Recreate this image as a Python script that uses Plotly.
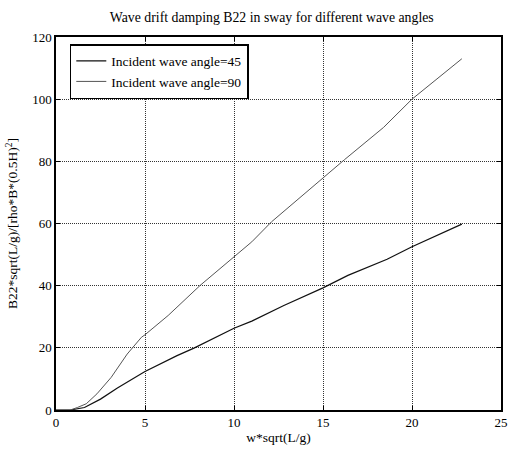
import plotly.graph_objects as go

# Incident wave angle = 45
x45 = [0, 0.8, 1.6, 2.5, 3.45, 5.0, 6.8, 7.75, 10.0, 11.0, 12.8, 15.0, 16.4, 18.6, 20.0, 22.8]
y45 = [0, 0, 0.8, 3.5, 7.1, 12.4, 17.5, 19.9, 26.3, 28.6, 33.6, 39.3, 43.3, 48.5, 52.5, 59.8]

# Incident wave angle = 90
x90 = [0, 0.8, 1.2, 1.7, 2.3, 3.1, 4.0, 4.8, 5.0, 6.3, 8.1, 10.0, 11.0, 12.1, 15.0, 16.2, 18.4, 20.0, 22.8]
y90 = [0, 0, 0.8, 2.0, 5.2, 10.5, 18.0, 23.4, 24.2, 30.4, 40.1, 49.2, 54.1, 60.5, 74.8, 80.5, 90.9, 100.0, 113.0]

xticks = [0, 5, 10, 15, 20, 25]
yticks = [0, 20, 40, 60, 80, 100, 120]

FONT = "Liberation Serif"

fig = go.Figure()
fig.add_trace(go.Scatter(x=x45, y=y45, mode="lines", name="Incident wave angle=45",
                         line=dict(color="#111111", width=1.2)))
fig.add_trace(go.Scatter(x=x90, y=y90, mode="lines", name="Incident wave angle=90",
                         line=dict(color="#555555", width=1)))

axis_common = dict(
    showline=True, linecolor="black", linewidth=1.5, mirror="ticks",
    ticks="inside", ticklen=4, tickcolor="black", tickwidth=1,
    showgrid=True, gridcolor="#333333", griddash="1px,1px", gridwidth=1,
    zeroline=False, automargin=False,
    tickfont=dict(family=FONT, size=13, color="black"),
)

fig.update_xaxes(range=[0, 25], tickvals=xticks,
                 title=dict(text="w*sqrt(L/g)", font=dict(family=FONT, size=13.5, color="black"), standoff=3),
                 **axis_common)
fig.update_yaxes(range=[0, 120], tickvals=yticks,
                 title=dict(text="B22*sqrt(L/g)/[rho*B*(0.5H)<sup>2</sup>]",
                            font=dict(family=FONT, size=13.5, color="black"), standoff=11),
                 **axis_common)

fig.update_layout(
    width=508, height=449,
    margin=dict(l=56, r=7, t=37, b=39),
    paper_bgcolor="white", plot_bgcolor="white",
    font=dict(family=FONT, size=13, color="black"),
    title=dict(text="Wave drift damping B22 in sway for different wave angles",
               x=0.535, xanchor="center", y=1 - 17 / 449, yanchor="middle", yref="container",
               font=dict(family=FONT, size=13.8, color="black")),
    legend=dict(x=0.031, y=0.981, xanchor="left", yanchor="top",
                bordercolor="black", borderwidth=1.5, bgcolor="white",
                font=dict(family=FONT, size=13.5, color="black"),
                tracegroupgap=0),
    showlegend=True,
)

fig.write_html("out.html", config={"displayModeBar": False},
               post_script="document.body.style.margin='0';")
